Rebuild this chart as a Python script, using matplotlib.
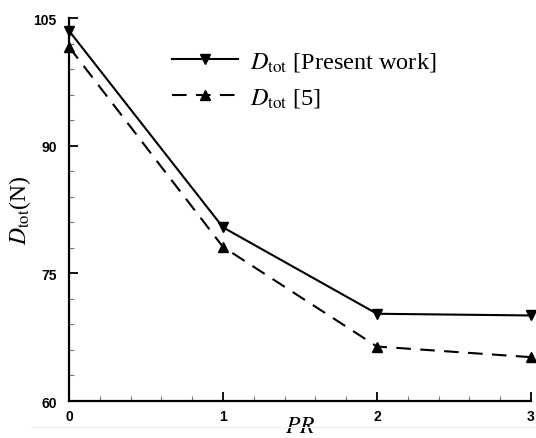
import matplotlib
matplotlib.use('Agg')
import matplotlib.pyplot as plt
from matplotlib.ticker import MultipleLocator
from matplotlib.lines import Line2D

# data
pr = [0, 1, 2, 3]
d_present = [103.5, 80.4, 70.25, 70.05]
d_ref5 = [101.6, 78.1, 66.4, 65.15]

plt.rcParams['font.family'] = ['Liberation Serif', 'DejaVu Serif']
plt.rcParams['mathtext.fontset'] = 'stix'

fig = plt.figure(figsize=(5.36, 4.39), dpi=100)
ax = fig.add_axes([69/536, (439-402)/439, 462/536, 383/439])

ax.plot(pr, d_present, color='black', lw=1.5, marker='v', ms=6.5,
        label=r'$D_{\rm tot}$ [Present work]', clip_on=False, zorder=3)
ax.plot(pr, d_ref5, color='black', lw=1.5, marker='^', ms=6.5, dashes=(7, 4.5),
        label=r'$D_{\rm tot}$ [5]', clip_on=False, zorder=3)

ax.set_xlim(0, 3)
ax.set_ylim(60, 105)
ax.xaxis.set_major_locator(MultipleLocator(1))
ax.xaxis.set_minor_locator(MultipleLocator(0.2))
ax.yaxis.set_major_locator(MultipleLocator(15))
ax.yaxis.set_minor_locator(MultipleLocator(3))

for s in ['top', 'right']:
    ax.spines[s].set_visible(False)
for s in ['left', 'bottom']:
    ax.spines[s].set_linewidth(1.6)

ax.tick_params(which='major', direction='in', length=6.5, width=1.3,
               labelsize=10, pad=6)
ax.tick_params(which='minor', direction='in', length=3.5, width=0.8, color='#777777')
ax.tick_params(axis='y', which='major', pad=9)
for lab in ax.get_xticklabels() + ax.get_yticklabels():
    lab.set_fontfamily('Liberation Sans')
    lab.set_fontweight('bold')

ax.set_ylabel(r'$D_{\rm tot}$(N)', fontsize=17, labelpad=0)
ax.set_xlabel(r'$PR$', fontsize=17, labelpad=-5)

leg = ax.legend(loc='upper left', bbox_to_anchor=(172/536, 1 - 51/439),
                bbox_transform=fig.transFigure, frameon=False, fontsize=17.5,
                handlelength=2.7, handletextpad=0.5, labelspacing=0.55,
                borderpad=0, borderaxespad=0)

# faint scan line under the axis labels
fig.add_artist(Line2D([31/536, 1], [1 - 428/439, 1 - 428/439], color='#eeeeee', lw=0.8))

fig.savefig('out.png', dpi=100)
